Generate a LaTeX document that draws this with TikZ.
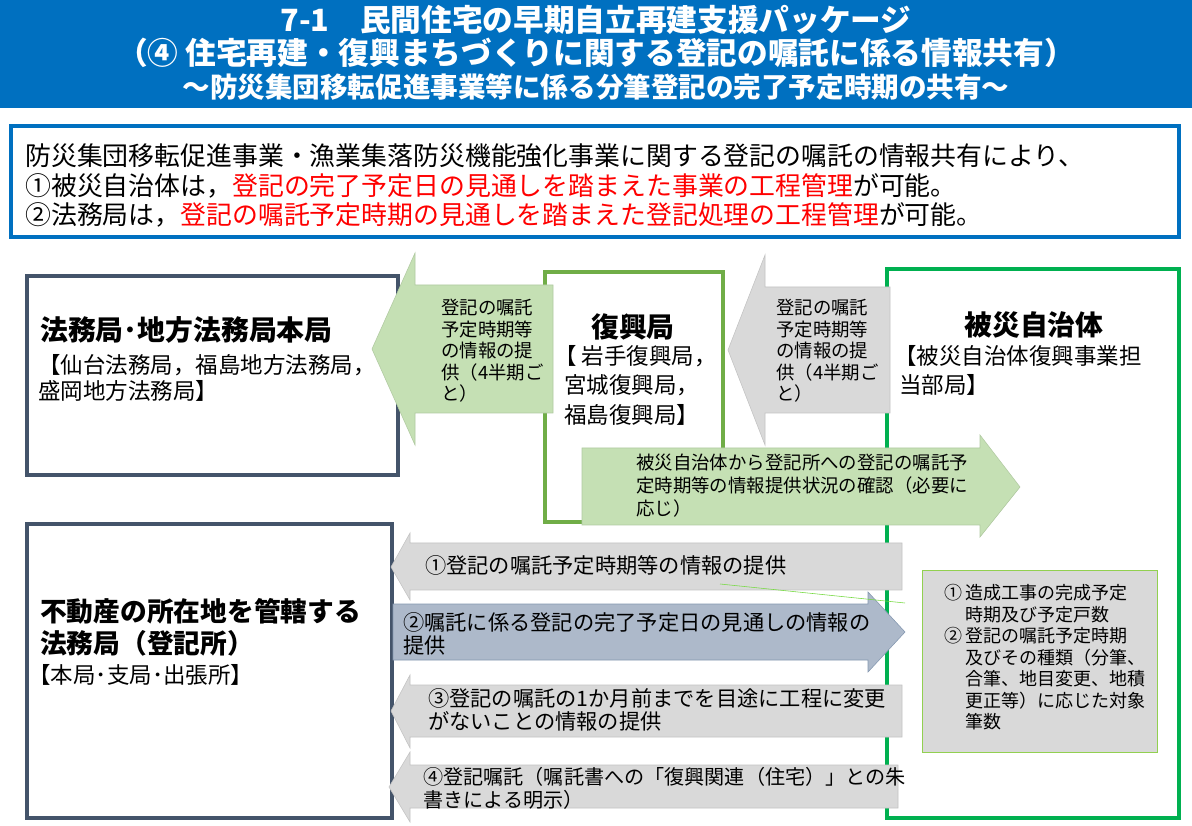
\documentclass[tikz,border=0pt]{standalone}
\usepackage{fontspec}
\setmainfont{Noto Sans CJK JP}
\usetikzlibrary{positioning}
\definecolor{hdrblue}{HTML}{0070C0}
\definecolor{slate}{HTML}{44546A}
\definecolor{lgreen}{HTML}{C5E0B4}
\definecolor{mgreen}{HTML}{70AD47}
\definecolor{dgreen}{HTML}{00B050}
\definecolor{lgray}{HTML}{D9D9D9}
\definecolor{bgray}{HTML}{ADB9CA}
\definecolor{bgrayline}{HTML}{8497B0}
\definecolor{yg}{HTML}{92D050}

\begin{document}
\begin{tikzpicture}[x=0.025cm,y=-0.025cm,
  txt/.style={inner sep=0pt,align=left,anchor=north west},
  arrtxt/.style={txt,font=\fontsize{13.1}{15.3}\selectfont},
  numtxt/.style={txt,font=\fontsize{15.1}{16.6}\selectfont},
  ttl/.style={font=\fontsize{19.8}{21}\selectfont\bfseries},
  garrow/.style={fill=lgray,draw=lgray!90!black,line width=0.4pt},
  grarrow/.style={fill=lgreen,draw=lgreen!90!black,line width=0.4pt}]
\useasboundingbox (0,0) rectangle (1192,826);
\fill[white] (0,0) rectangle (1192,826);
% header
\fill[hdrblue] (0,0) rectangle (1192,108);
\node[font=\fontsize{21.8}{22}\selectfont\bfseries,text=white] (t1) at (596,20) {7-1\quad 民間住宅の早期自立再建支援パッケージ};
\node[font=\fontsize{21.8}{22}\selectfont\bfseries,text=white] (t2) at (596,53) {（④ 住宅再建・復興まちづくりに関する登記の嘱託に係る情報共有）};
\node[font=\fontsize{19.6}{20}\selectfont\bfseries,text=white] (t3) at (596,87) {～防災集団移転促進事業等に係る分筆登記の完了予定時期の共有～};
% summary box
\draw[hdrblue,line width=3pt] (11,126) rectangle (1179,237);
\node[txt,font=\fontsize{18.4}{21.3}\selectfont] (sum) at (25,143) {防災集団移転促進事業・漁業集落防災機能強化事業に関する登記の嘱託の情報共有により、\\
①被災自治体は，\textcolor{red}{登記の完了予定日の見通しを踏まえた事業の工程管理}が可能。\\
②法務局は，\textcolor{red}{登記の嘱託予定時期の見通しを踏まえた登記処理の工程管理}が可能。};
% organisation boxes
\draw[slate,line width=2.5pt] (27,276) rectangle (398,475);
\node[txt,ttl] (hq) at (40,316) {法務局･地方法務局本局};
\node[txt,font=\fontsize{16}{18.5}\selectfont] (hqs) at (38,354) {【仙台法務局，福島地方法務局，\\盛岡地方法務局】};
\draw[slate,line width=2.5pt] (27,524) rectangle (392,818);
\node[txt,ttl,font=\fontsize{19}{22.5}\selectfont\bfseries] (reg) at (40,598) {不動産の所在地を管轄する\\法務局（登記所）};
\node[txt,font=\fontsize{16}{16}\selectfont] (regs) at (28,664) {【本局･支局･出張所】};
\draw[mgreen,line width=2.5pt] (545,272) rectangle (723,522);
\node[ttl] (fk) at (633,327) {復興局};
\node[txt,font=\fontsize{16}{21}\selectfont] (fks) at (554,345) {【 岩手復興局，\\\ \ 宮城復興局，\\\ \ 福島復興局】};
\draw[dgreen,line width=2.5pt] (887,269) rectangle (1179,818);
\node[ttl] (hs) at (1034,325) {被災自治体};
\node[txt,font=\fontsize{16}{20.5}\selectfont] (hss) at (894,345) {【被災自治体復興事業担\\\ 当部局】};
% arrows between offices
\draw[grarrow] (372,349)--(415,253)--(415,285)--(553,285)--(553,413)--(415,413)--(415,445)--cycle;
\node[arrtxt] (a1) at (441,299) {登記の嘱託\\予定時期等\\の情報の提\\供（4半期ご\\と）};
\draw[garrow] (728,350)--(765,255)--(765,287)--(890,287)--(890,413)--(765,413)--(765,445)--cycle;
\node[arrtxt] (a2) at (776,299) {登記の嘱託\\予定時期等\\の情報の提\\供（4半期ご\\と）};
\draw[grarrow] (582,448)--(980,448)--(980,435)--(1020,487)--(980,537)--(980,525)--(582,525)--cycle;
\node[arrtxt,font=\fontsize{13.1}{16.4}\selectfont] (a3) at (636,454) {被災自治体から登記所への登記の嘱託予\\定時期等の情報提供状況の確認（必要に\\応じ）};
% numbered arrows
\draw[garrow] (391,567)--(410,533)--(410,543)--(902,543)--(902,590)--(410,590)--(410,600)--cycle;
\node[numtxt] (n1) at (425,555) {①登記の嘱託予定時期等の情報の提供};
\draw[fill=bgray,draw=bgrayline] (393,604)--(868,604)--(868,592)--(905,632)--(868,672)--(868,660)--(393,660)--cycle;
\node[numtxt] (n2) at (403,612) {②嘱託に係る登記の完了予定日の見通しの情報の\\提供};
\draw[garrow] (391,711)--(410,675)--(410,685)--(902,685)--(902,737)--(410,737)--(410,748)--cycle;
\node[numtxt] (n3) at (428,688) {③登記の嘱託の1か月前までを目途に工程に変更\\がないことの情報の提供};
\draw[garrow] (389,787)--(410,752)--(410,765)--(898,765)--(898,808)--(410,808)--(410,822)--cycle;
\node[numtxt,font=\fontsize{14.3}{16.6}\selectfont] (n4) at (423,767) {④登記嘱託（嘱託書への「復興関連（住宅）」との朱\\書きによる明示）};
% info box
\draw[fill=lgray,draw=yg] (922,570) rectangle (1157,752);
\node[arrtxt,font=\fontsize{12.8}{15.3}\selectfont] (info) at (944,584) {①\,造成工事の完成予定\\\phantom{①\,}時期及び予定戸数\\②\,登記の嘱託予定時期\\\phantom{①\,}及びその種類（分筆、\\\phantom{①\,}合筆、地目変更、地積\\\phantom{①\,}更正等）に応じた対象\\\phantom{①\,}筆数};
\coordinate (lk) at (905,603);
\draw[yg!80!green] (720,584)--(lk);
\end{tikzpicture}
\end{document}
